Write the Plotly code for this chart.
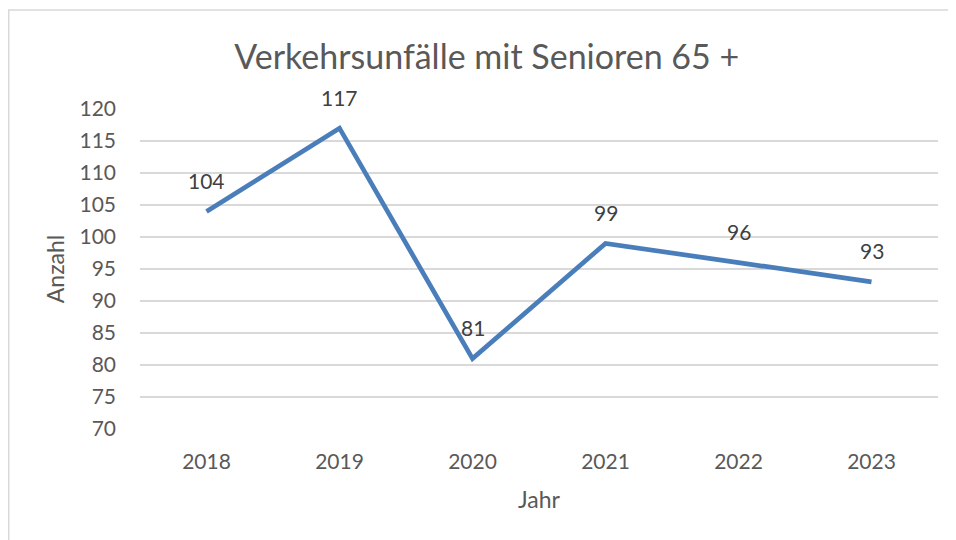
import plotly.graph_objects as go

years = ["2018", "2019", "2020", "2021", "2022", "2023"]
accidents = [104, 117, 81, 99, 96, 93]
y_ticks = [70, 75, 80, 85, 90, 95, 100, 105, 110, 115, 120]

FONT = "Lato"
LINE_COLOR = "#4a7ebb"

fig = go.Figure()
fig.add_trace(go.Scatter(
    x=years, y=accidents, mode="lines",
    line=dict(color=LINE_COLOR, width=4.7),
    hoverinfo="x+y", showlegend=False,
))

for i, yv in enumerate(accidents):
    fig.add_annotation(
        x=i, y=yv, text=str(yv), showarrow=False,
        yshift=31, font=dict(family=FONT, size=21, color="#404040"),
    )

# chart-area border (page body has an 8px margin)
fig.add_shape(
    type="rect", xref="paper", yref="paper",
    x0=-0.1645, x1=1.5, y0=-0.5, y1=1.309,
    line=dict(color="#d9d9d9", width=1.5), fillcolor="rgba(0,0,0,0)",
    layer="below",
)

fig.update_layout(
    width=948, height=532,
    margin=dict(l=132, r=18, t=101, b=111),
    paper_bgcolor="white", plot_bgcolor="white",
    title=dict(
        text="Verkehrsunfälle mit Senioren 65 +",
        x=0.505, xanchor="center", y=0.908, yanchor="middle",
        xref="container", yref="container",
        font=dict(family=FONT, size=34, color="#595959"),
    ),
    xaxis=dict(
        type="category", range=[-0.5, 5.5],
        showgrid=False, zeroline=False, showline=False,
        ticks="", ticklabelstandoff=18,
        tickfont=dict(family=FONT, size=21, color="#595959"),
        title=dict(text="Jahr", standoff=19,
                   font=dict(family=FONT, size=23, color="#595959")),
    ),
    yaxis=dict(
        range=[70, 120], tickvals=y_ticks,
        showgrid=True, gridcolor="#d9d9d9", gridwidth=1.5,
        zeroline=False, showline=False, ticks="",
        ticklabelstandoff=23,
        tickfont=dict(family=FONT, size=21, color="#595959"),
        title=dict(text="Anzahl", standoff=8,
                   font=dict(family=FONT, size=23, color="#595959")),
    ),
)

fig.write_html("out.html")
